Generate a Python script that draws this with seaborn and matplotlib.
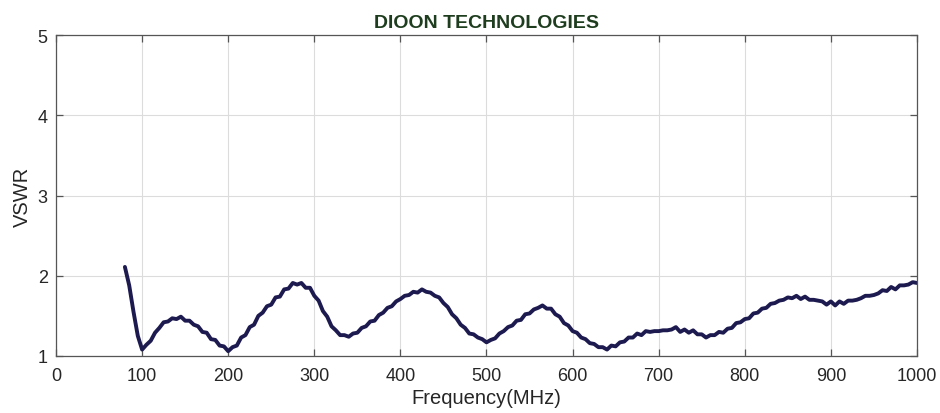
import numpy as np
import pandas as pd

import matplotlib.pyplot as plt
import seaborn as sns

# data: VSWR, every 5 MHz from 80 to 1000
freq = np.arange(80, 1001, 5)
vswr = [
    2.11, 1.88, 1.55, 1.25, 1.08, 1.14, 1.19, 1.29, 1.35, 1.42,
    1.43, 1.47, 1.46, 1.49, 1.44, 1.44, 1.39, 1.37, 1.30, 1.29,
    1.21, 1.20, 1.13, 1.12, 1.06, 1.11, 1.13, 1.23, 1.26, 1.36,
    1.39, 1.50, 1.54, 1.62, 1.64, 1.73, 1.74, 1.83, 1.84, 1.91,
    1.89, 1.91, 1.85, 1.85, 1.75, 1.69, 1.56, 1.49, 1.37, 1.32,
    1.26, 1.26, 1.24, 1.28, 1.29, 1.35, 1.37, 1.43, 1.44, 1.51,
    1.54, 1.60, 1.62, 1.68, 1.71, 1.75, 1.76, 1.80, 1.79, 1.83,
    1.80, 1.79, 1.75, 1.73, 1.66, 1.61, 1.52, 1.47, 1.39, 1.35,
    1.28, 1.27, 1.23, 1.21, 1.17, 1.20, 1.22, 1.28, 1.31, 1.36,
    1.38, 1.44, 1.45, 1.52, 1.53, 1.58, 1.60, 1.63, 1.59, 1.59,
    1.52, 1.49, 1.41, 1.38, 1.31, 1.29, 1.23, 1.21, 1.16, 1.15,
    1.11, 1.11, 1.08, 1.13, 1.12, 1.17, 1.18, 1.23, 1.23, 1.28,
    1.26, 1.31, 1.30, 1.31, 1.31, 1.32, 1.32, 1.33, 1.36, 1.30,
    1.33, 1.29, 1.32, 1.27, 1.27, 1.23, 1.26, 1.26, 1.30, 1.29,
    1.34, 1.35, 1.41, 1.42, 1.46, 1.47, 1.53, 1.54, 1.59, 1.60,
    1.65, 1.66, 1.69, 1.70, 1.73, 1.72, 1.75, 1.71, 1.74, 1.70,
    1.70, 1.69, 1.68, 1.64, 1.68, 1.63, 1.68, 1.65, 1.69, 1.69,
    1.70, 1.72, 1.75, 1.75, 1.76, 1.78, 1.82, 1.81, 1.86, 1.83,
    1.88, 1.88, 1.89, 1.92, 1.91,
]
df = pd.DataFrame({"freq": freq, "vswr": vswr})

# plot setup
sns.set_theme(style="whitegrid")
plt.rcParams["font.family"] = ["Liberation Sans", "DejaVu Sans"]
fig = plt.figure(figsize=(9.4, 4.14), dpi=100)
ax = fig.add_axes([0.0596, 0.1377, 0.9159, 0.7753])

sns.lineplot(data=df, x="freq", y="vswr", color="#1c1a4f", linewidth=2.8, ax=ax)

ax.set_xlim(0, 1000)
ax.set_ylim(1, 5)
ax.set_xticks(range(0, 1001, 100))
ax.set_yticks([1, 2, 3, 4, 5])
ax.grid(True, color="#dcdcdc", linewidth=0.8)
for s in ax.spines.values():
    s.set_color("#555555")
    s.set_linewidth(0.9)
ax.tick_params(direction="in", length=5, width=0.9, color="#555555",
               labelsize=13, labelcolor="#262626", top=True, right=True,
               bottom=True, left=True)
ax.tick_params(axis="x", pad=8)
ax.tick_params(axis="y", pad=6)

ax.set_xlabel("Frequency(MHz)", fontsize=14.5, color="#262626", labelpad=3)
ax.set_ylabel("VSWR", fontsize=14.5, color="#262626", labelpad=4)
ax.set_title("DIOON TECHNOLOGIES", fontsize=14, fontweight="bold",
             color="#1e3d1e", pad=6)

plt.savefig("out.png", dpi=100)
